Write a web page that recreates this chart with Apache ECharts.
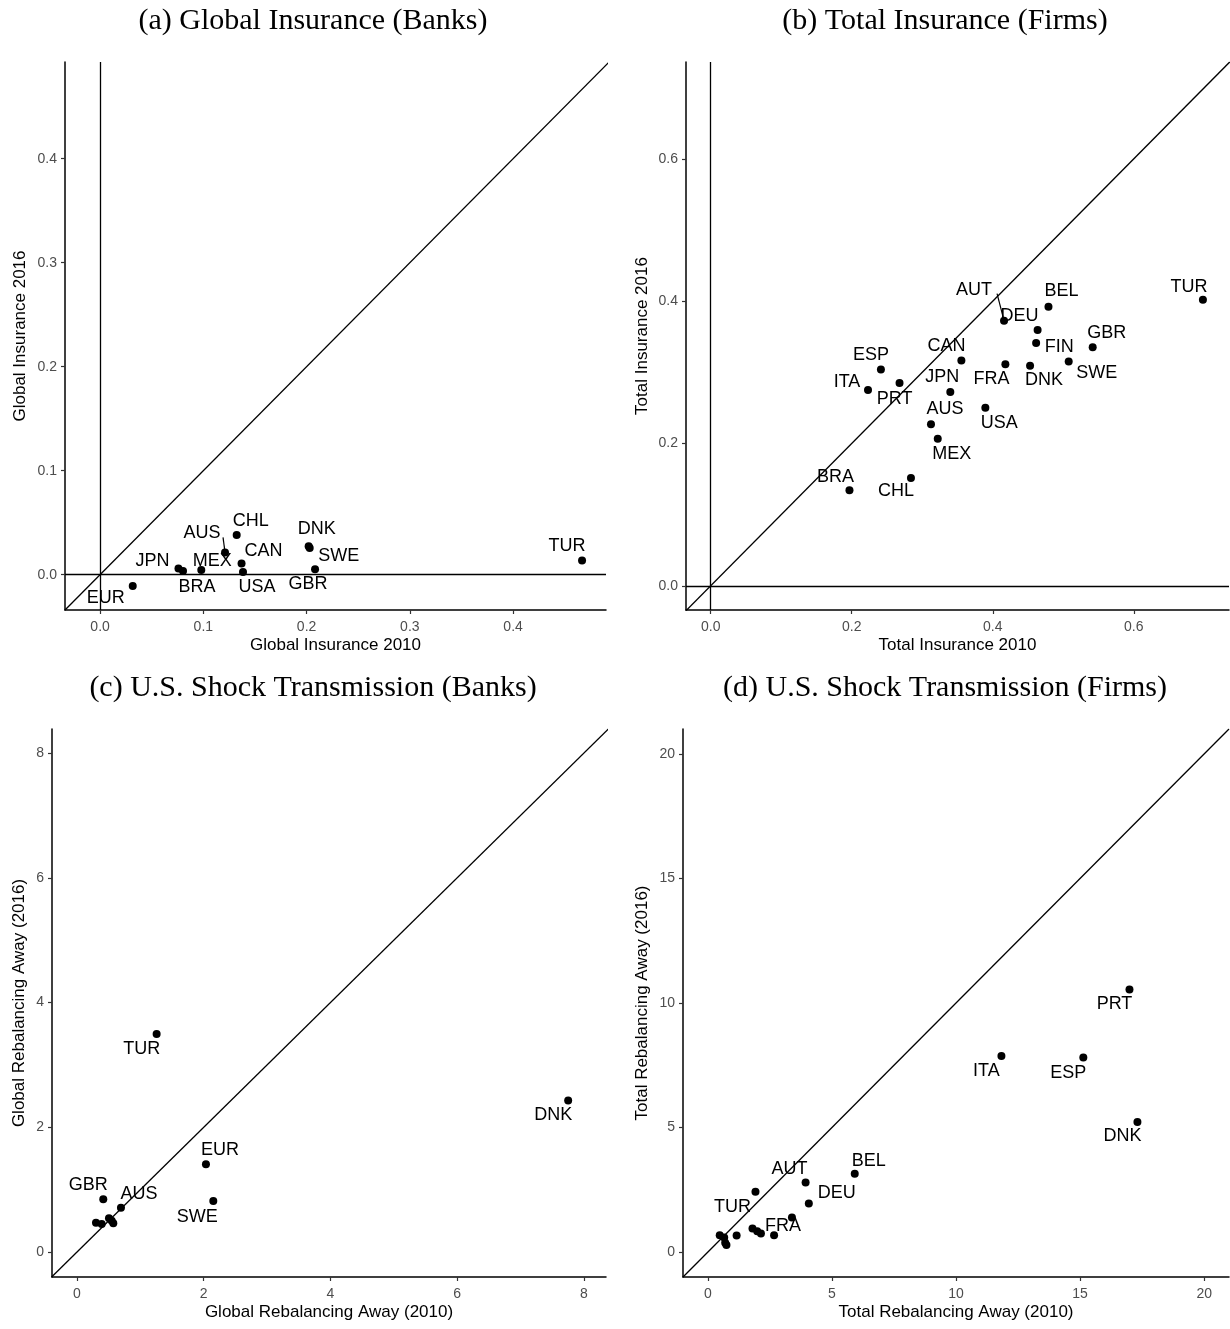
<!DOCTYPE html>
<html>
<head>
<meta charset="utf-8">
<script src="https://cdn.jsdelivr.net/npm/echarts@6/dist/echarts.min.js"></script>
<style>
  html, body { margin: 0; padding: 0; background: #fff; }
  #chart { width: 1230px; height: 1329px; }
</style>
</head>
<body>
<div id="chart"></div>
<script>
// ---- (a) Global insurance, banks ----
const bankCodes = ['EUR', 'JPN', 'BRA', 'MEX', 'AUS', 'CHL', 'CAN', 'USA', 'DNK', 'SWE', 'GBR', 'TUR'];
const bankInsurance2010 = [0.0316, 0.0759, 0.0803, 0.0980, 0.1210, 0.1323, 0.1370, 0.1384, 0.2020, 0.2030, 0.2082, 0.4668];
const bankInsurance2016 = [-0.0110, 0.0058, 0.0035, 0.0045, 0.0214, 0.0382, 0.0106, 0.0026, 0.0272, 0.0256, 0.0051, 0.0135];

// ---- (b) Total insurance, firms ----
const firmCodes = ['AUT', 'BEL', 'DEU', 'FIN', 'GBR', 'CAN', 'ESP', 'PRT', 'ITA', 'FRA', 'DNK', 'SWE', 'JPN', 'USA', 'AUS', 'MEX', 'CHL', 'BRA', 'TUR'];
const firmInsurance2010 = [0.416, 0.479, 0.4636, 0.4615, 0.5417, 0.3555, 0.2414, 0.2678, 0.2231, 0.4179, 0.4529, 0.5077, 0.3398, 0.3895, 0.3124, 0.3220, 0.2840, 0.1968, 0.698];
const firmInsurance2016 = [0.3725, 0.392, 0.3594, 0.3413, 0.3352, 0.3166, 0.3040, 0.2848, 0.2751, 0.3114, 0.3091, 0.3152, 0.2723, 0.2503, 0.2270, 0.2065, 0.1515, 0.1343, 0.402];

// ---- (c) U.S. shock transmission, banks (unlabelled countries have empty codes) ----
const bankRebalCodes = ['TUR', 'DNK', 'EUR', 'SWE', 'AUS', 'GBR', '', '', '', '', ''];
const bankRebal2010 = [1.257, 7.75, 2.035, 2.151, 0.694, 0.415, 0.300, 0.390, 0.505, 0.548, 0.573];
const bankRebal2016 = [3.495, 2.43, 1.406, 0.818, 0.710, 0.845, 0.469, 0.449, 0.540, 0.502, 0.460];

// ---- (d) U.S. shock transmission, firms ----
const firmRebalCodes = ['PRT', 'ITA', 'ESP', 'DNK', 'BEL', 'AUT', 'DEU', 'TUR', 'FRA', '', '', '', '', '', '', '', '', ''];
const firmRebal2010 = [16.99, 11.83, 15.13, 17.31, 5.92, 3.94, 4.07, 1.92, 3.39, 2.67, 1.80, 1.99, 2.14, 1.16, 0.48, 0.66, 0.75, 0.70];
const firmRebal2016 = [10.54, 7.87, 7.81, 5.22, 3.15, 2.79, 1.95, 2.42, 1.39, 0.68, 0.95, 0.84, 0.75, 0.67, 0.68, 0.59, 0.28, 0.38];

// ---- tick values ----
const ticksA = [0, 0.1, 0.2, 0.3, 0.4];
const ticksB = [0, 0.2, 0.4, 0.6];
const ticksC = [0, 2, 4, 6, 8];
const ticksD = [0, 5, 10, 15, 20];

// ---- text ----
const titles = [
  '(a) Global Insurance (Banks)',
  '(b) Total Insurance (Firms)',
  '(c) U.S. Shock Transmission (Banks)',
  '(d) U.S. Shock Transmission (Firms)'
];
const xNames = ['Global Insurance 2010', 'Total Insurance 2010', 'Global Rebalancing Away (2010)', 'Total Rebalancing Away (2010)'];
const yNames = ['Global Insurance 2016', 'Total Insurance 2016', 'Global Rebalancing Away (2016)', 'Total Rebalancing Away (2016)'];

// ---- layout: label nudges (px) and leader-line starts (px, relative to the point) ----
const labelNudge = [
  { EUR: [-27, 12], JPN: [-26, -8], BRA: [14, 16], MEX: [11, -9], AUS: [-23, -19], CHL: [14, -14],
    CAN: [22, -13], USA: [14, 15], DNK: [8, -17], SWE: [29, 8], GBR: [-7, 15], TUR: [-15, -15] },
  { AUT: [-30, -31], BEL: [13, -16], DEU: [-18, -14], FIN: [23, 4], GBR: [14, -14], SWE: [28, 12],
    DNK: [14, 14], FRA: [-14, 15], JPN: [-8, -15], CAN: [-15, -14], ESP: [-10, -14], ITA: [-21, -8],
    PRT: [-5, 16], AUS: [14, -15], USA: [14, 15], MEX: [14, 15], BRA: [-14, -13], CHL: [-15, 13], TUR: [-14, -13] },
  { TUR: [-15, 15], DNK: [-15, 15], EUR: [14, -14], SWE: [-16, 16], AUS: [18, -14], GBR: [-15, -14] },
  { PRT: [-15, 14], ITA: [-15, 15], ESP: [-15, 15], DNK: [-15, 14], BEL: [14, -13], AUT: [-16, -14],
    DEU: [28, -10], TUR: [-23, 15], FRA: [-9, 9] }
];
const leaderStart = [{ AUS: [-2, -15] }, { AUT: [-7, -27] }, {}, {}];

const panels = [
  { codes: bankCodes, xs: bankInsurance2010, ys: bankInsurance2016, ticks: ticksA, dec: 1,
    xr: [-0.034, 0.490], yr: [-0.034, 0.493], zero: true,
    grid: { left: 65, top: 62, width: 541, height: 548 }, title: [313, 21], yGap: 36 },
  { codes: firmCodes, xs: firmInsurance2010, ys: firmInsurance2016, ticks: ticksB, dec: 1,
    xr: [-0.035, 0.735], yr: [-0.034, 0.736], zero: true,
    grid: { left: 686, top: 62, width: 543, height: 548 }, title: [945, 21], yGap: 35 },
  { codes: bankRebalCodes, xs: bankRebal2010, ys: bankRebal2016, ticks: ticksC, dec: 0,
    xr: [-0.394, 8.347], yr: [-0.40, 8.385], zero: false,
    grid: { left: 52, top: 729, width: 554, height: 548 }, title: [313, 688], yGap: 24 },
  { codes: firmRebalCodes, xs: firmRebal2010, ys: firmRebal2016, ticks: ticksD, dec: 0,
    xr: [-1, 21], yr: [-1, 21], zero: false,
    grid: { left: 683, top: 729, width: 546, height: 548 }, title: [945, 688], yGap: 32 }
];

const SANS = 'Liberation Sans, Arial, Helvetica, sans-serif';
const SERIF = 'Liberation Serif, Times New Roman, serif';

const grids = [], xAxes = [], yAxes = [], series = [], titleOpts = [];

function axis(i, p, range, name, isY) {
  return {
    gridIndex: i, type: 'value', min: range[0], max: range[1],
    name: name, nameLocation: 'middle', nameGap: isY ? p.yGap : 27,
    nameTextStyle: { fontSize: 17, color: '#000', fontFamily: SANS },
    axisLine: { show: true, onZero: false, lineStyle: { color: '#000', width: 1.5 } },
    axisTick: { show: true, customValues: p.ticks, length: 4, lineStyle: { color: '#333', width: 1.2 } },
    axisLabel: { show: true, customValues: p.ticks, margin: isY ? 8 : 10, color: '#4D4D4D', fontSize: 14,
                 fontFamily: SANS, formatter: v => Number(v).toFixed(p.dec) },
    splitLine: { show: false }
  };
}

panels.forEach((p, i) => {
  grids.push(Object.assign({ containLabel: false }, p.grid));
  xAxes.push(axis(i, p, p.xr, xNames[i], false));
  yAxes.push(axis(i, p, p.yr, yNames[i], true));
  titleOpts.push({
    text: titles[i], left: p.title[0], top: p.title[1] - 15, textAlign: 'center', padding: 0,
    textStyle: { fontFamily: SERIF, fontSize: 30, fontWeight: 'normal', color: '#000' }
  });

  // 45-degree reference line (and zero lines for the insurance panels)
  const lo = Math.min(p.xr[0], p.yr[0]), hi = Math.max(p.xr[1], p.yr[1]);
  const diag = {
    type: 'line', xAxisIndex: i, yAxisIndex: i, data: [[lo, lo], [hi, hi]],
    symbol: 'none', clip: true, silent: true, z: 2,
    lineStyle: { color: '#000', width: 1.3 }
  };
  if (p.zero) {
    diag.markLine = {
      silent: true, symbol: ['none', 'none'], label: { show: false },
      lineStyle: { color: '#000', width: 1.3, type: 'solid' },
      data: [{ xAxis: 0 }, { yAxis: 0 }]
    };
  }
  series.push(diag);

  // leader lines from label to point
  const leaders = p.codes.map((c, k) => [p.xs[k], p.ys[k], c]).filter(d => leaderStart[i][d[2]]);
  if (leaders.length) {
    series.push({
      type: 'custom', xAxisIndex: i, yAxisIndex: i, data: leaders, silent: true, z: 3,
      renderItem: (params, api) => {
        const pt = api.coord([api.value(0), api.value(1)]);
        const off = leaderStart[i][leaders[params.dataIndex][2]];
        return {
          type: 'line',
          shape: { x1: pt[0] + off[0], y1: pt[1] + off[1], x2: pt[0], y2: pt[1] },
          style: { stroke: '#000', lineWidth: 1.2 }
        };
      }
    });
  }

  // points with country labels
  series.push({
    type: 'scatter', xAxisIndex: i, yAxisIndex: i, symbolSize: 8, silent: true, z: 4,
    itemStyle: { color: '#000', opacity: 1 },
    label: { show: true, position: 'inside', color: '#000', fontSize: 18, fontFamily: SANS,
             formatter: d => d.name },
    data: p.codes.map((c, k) => ({
      name: c, value: [p.xs[k], p.ys[k]],
      label: { offset: labelNudge[i][c] || [0, 0] }
    }))
  });
});

const chart = echarts.init(document.getElementById('chart'), null, { renderer: 'canvas' });
chart.setOption({
  backgroundColor: '#fff',
  animation: false,
  title: titleOpts,
  grid: grids,
  xAxis: xAxes,
  yAxis: yAxes,
  series: series
});
</script>
</body>
</html>
